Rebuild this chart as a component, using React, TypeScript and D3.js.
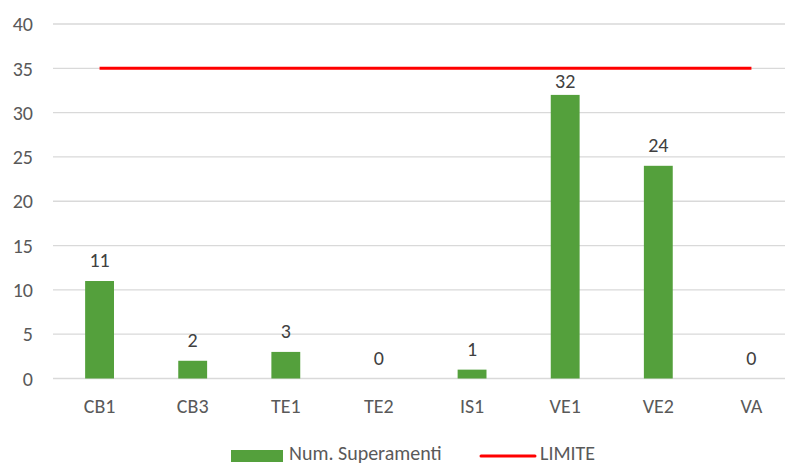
import React from "react";
import * as d3 from "d3";

const categories = ["CB1", "CB3", "TE1", "TE2", "IS1", "VE1", "VE2", "VA"];
const superamenti = [11, 2, 3, 0, 1, 32, 24, 0];
const limite = [35, 35, 35, 35, 35, 35, 35, 35];
const yTicks = [0, 5, 10, 15, 20, 25, 30, 35, 40];
const seriesNames = ["Num. Superamenti", "LIMITE"];

const W = 785;
const H = 464;
const FONT = "Carlito, Lato, 'Open Sans', sans-serif";
const FS = 20;

export default function App() {
  const x = d3.scaleBand<string>().domain(categories).range([53, 798]).paddingInner(0.69).paddingOuter(0.345);
  const y = d3.scaleLinear().domain([0, 40]).range([378.5, 24]);
  const center = (c: string) => (x(c) as number) + x.bandwidth() / 2;
  const line = d3
    .line<number>()
    .x((_, i) => center(categories[i]))
    .y((d) => y(d));

  const labelY = (v: number, i: number) => {
    const base = y(v) - 14;
    const top = base - 14;
    // nudge down when the label would collide with the limit line
    return top < y(limite[i]) + 3 ? y(v) - 7 : base;
  };

  return (
    <svg width={W} height={H} style={{ position: "absolute", left: 0, top: 0, background: "#fff" }}>
      <rect width={W} height={H} fill="#fff" />
      {yTicks.map((t) => (
        <g key={t}>
          <line x1={53} x2={W} y1={y(t)} y2={y(t)} stroke="#D9D9D9" strokeWidth={1.3} />
          <text x={33} y={y(t)} dy="0.36em" textAnchor="end" fontFamily={FONT} fontSize={FS} fill="#595959">
            {t}
          </text>
        </g>
      ))}
      {categories.map((c, i) => (
        <g key={c}>
          <rect x={x(c)} y={y(superamenti[i])} width={x.bandwidth()} height={y(0) - y(superamenti[i])} fill="#54A03C" />
          <text x={center(c)} y={labelY(superamenti[i], i)} textAnchor="middle" fontFamily={FONT} fontSize={FS} fill="#404040">
            {superamenti[i]}
          </text>
          <text x={center(c)} y={413} textAnchor="middle" fontFamily={FONT} fontSize={FS} fill="#595959">
            {c}
          </text>
        </g>
      ))}
      <path d={line(limite) as string} fill="none" stroke="#FF0000" strokeWidth={3} />
      <rect x={231} y={450} width={52} height={12} fill="#54A03C" />
      <text x={289} y={460} fontFamily={FONT} fontSize={FS} fill="#595959">
        {seriesNames[0]}
      </text>
      <line x1={481} x2={535} y1={456} y2={456} stroke="#FF0000" strokeWidth={3} strokeLinecap="round" />
      <text x={540} y={460} fontFamily={FONT} fontSize={FS} fill="#595959">
        {seriesNames[1]}
      </text>
    </svg>
  );
}
